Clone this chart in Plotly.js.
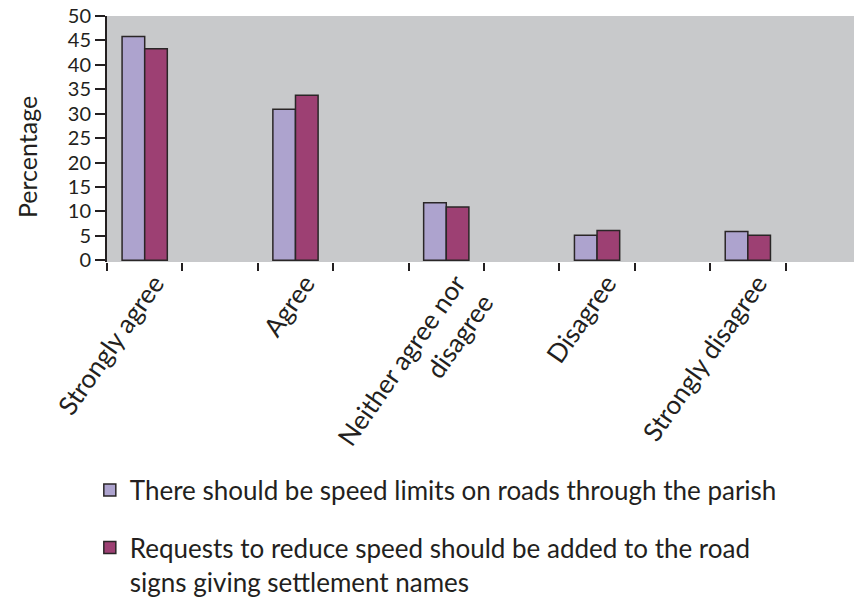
<!DOCTYPE html>
<html>
<head>
<meta charset="utf-8">
<script src="https://cdn.plot.ly/plotly-3.0.1.min.js"></script>
<style>
  html, body { margin: 0; padding: 0; background: #fff; }
  #chart { width: 854px; height: 607px; }
</style>
</head>
<body>
<div id="chart"></div>
<script>
const CATEGORIES = [
    "Strongly agree",
    "Agree",
    "Neither agree nor<br>disagree",
    "Disagree",
    "Strongly disagree",
];
const SPEED_LIMITS = [45.8, 30.9, 11.8, 5.1, 5.9];
const REDUCE_SPEED = [43.3, 33.8, 10.9, 6.1, 5.1];
const SERIES_NAMES = [
    "There should be speed limits on roads through the parish",
    "Requests to reduce speed should be added to the road<br>signs giving settlement names",
];
const Y_TICKS = [0, 5, 10, 15, 20, 25, 30, 35, 40, 45, 50];
const Y_TITLE = "Percentage";

const FONT = "Lato, 'Open Sans', sans-serif";
const INK = "#231f20";
const positions = CATEGORIES.map((_, i) => i);
const outline = { color: "#2a2627", width: 1.5 };

const traces = [
    {
        name: SERIES_NAMES[0],
        x: positions,
        y: SPEED_LIMITS,
        type: "bar",
        marker: { color: "#ada3ce", line: outline },
        legend: "legend",
    },
    {
        name: SERIES_NAMES[1],
        x: positions,
        y: REDUCE_SPEED,
        type: "bar",
        marker: { color: "#9d4073", line: outline },
        legend: "legend2",
    },
];

const legendStyle = {
    xanchor: "left",
    bgcolor: "rgba(0,0,0,0)",
    valign: "top",
    font: { family: FONT, size: 26, color: INK },
};

Plotly.newPlot("chart", traces, {
    width: 854,
    height: 607,
    margin: { l: 107, r: 0, t: 16, b: 345 },
    paper_bgcolor: "#ffffff",
    plot_bgcolor: "#c8c9cb",
    barmode: "group",
    bargap: 0.7,
    bargroupgap: 0,
    font: { family: FONT, color: INK },
    xaxis: {
        automargin: false,
        range: [-0.25, 4.704],
        tickvals: positions,
        ticktext: CATEGORIES,
        tickangle: -55,
        ticks: "",
        ticklabelshift: 10,
        showgrid: false,
        zeroline: false,
        showline: false,
        tickfont: { family: FONT, size: 26, color: INK },
        minor: {
            ticks: "outside",
            tick0: -0.25,
            dtick: 0.5,
            ticklen: 8,
            tickwidth: 2,
            tickcolor: INK,
            showgrid: false,
        },
    },
    yaxis: {
        automargin: false,
        range: [-0.35, 50],
        tickvals: Y_TICKS,
        ticks: "outside",
        ticklen: 10,
        tickwidth: 2,
        tickcolor: INK,
        showgrid: false,
        zeroline: false,
        showline: true,
        linecolor: INK,
        linewidth: 2,
        tickfont: { family: FONT, size: 20, color: INK },
    },
    annotations: [{
        text: Y_TITLE,
        xref: "paper",
        yref: "paper",
        x: -0.107,
        y: 0.427,
        xanchor: "center",
        yanchor: "middle",
        textangle: -90,
        showarrow: false,
        font: { family: FONT, size: 25, color: INK },
    }],
    showlegend: true,
    legend: Object.assign({ x: -0.023, y: -0.927, yanchor: "middle" }, legendStyle),
    legend2: Object.assign({ x: -0.023, y: -1.395, yanchor: "bottom" }, legendStyle),
}, { displayModeBar: false });
</script>
</body>
</html>
